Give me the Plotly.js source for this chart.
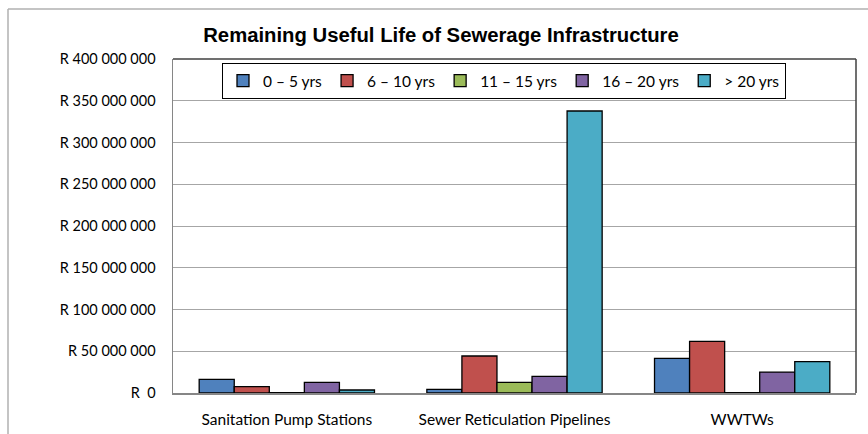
<!DOCTYPE html>
<html>
<head>
<meta charset="utf-8">
<script src="https://cdn.plot.ly/plotly-3.0.1.min.js"></script>
<style>html,body{margin:0;padding:0;background:#fff;}#chart{width:868px;height:434px;}</style>
</head>
<body>
<div id="chart"></div>
<script>
const categories = ["Sanitation Pump Stations", "Sewer Reticulation Pipelines", "WWTWs"];
const seriesNames = ["0 – 5 yrs", "6 – 10 yrs", "11 – 15 yrs", "16 – 20 yrs", "> 20 yrs"];
const s0to5 = [16400000, 4400000, 41500000];
const s6to10 = [7600000, 44300000, 61900000];
const s11to15 = [300000, 12800000, 300000];
const s16to20 = [12800000, 20000000, 25100000];
const s20plus = [3600000, 337700000, 37500000];
const tickVals = [0, 50000000, 100000000, 150000000, 200000000, 250000000, 300000000, 350000000, 400000000];
const tickLabels = ["R  0", "R 50 000 000", "R 100 000 000", "R 150 000 000", "R 200 000 000", "R 250 000 000", "R 300 000 000", "R 350 000 000", "R 400 000 000"];

const colors = ["#4F81BD", "#C0504D", "#9BBB59", "#8064A2", "#4BACC6"];
const values = [s0to5, s6to10, s11to15, s16to20, s20plus];

const traces = values.map((v, i) => ({
  type: "bar",
  name: seriesNames[i],
  x: categories,
  y: v,
  marker: {color: colors[i], line: {color: "#000000", width: 1.3}},
  hoverinfo: "x+y+name"
}));

const L = 173, R = 856, T = 59, B = 393;
const pw = R - L, ph = B - T;
const px = v => (v - L) / pw;
const py = v => (B - v) / ph;
const FONT = "Lato, 'Open Sans', sans-serif";

const layout = {
  width: 868, height: 434,
  margin: {l: L, r: 868 - R, t: T, b: 434 - B, pad: 0},
  paper_bgcolor: "#ffffff",
  plot_bgcolor: "#ffffff",
  font: {family: FONT, size: 14, color: "#000000"},
  title: {
    text: "<b>Remaining Useful Life of Sewerage Infrastructure</b>",
    font: {family: "'Liberation Sans', Arial, sans-serif", size: 20.3, color: "#000000"},
    x: 441 / 868, xanchor: "center", xref: "container",
    y: 1 - 35 / 434, yanchor: "middle", yref: "container"
  },
  barmode: "group",
  bargap: 0.23,
  bargroupgap: 0,
  showlegend: true,
  legend: {
    orientation: "h",
    x: px(504), xanchor: "center",
    y: py(63), yanchor: "top",
    bgcolor: "#ffffff",
    bordercolor: "#000000",
    borderwidth: 1,
    font: {family: FONT, size: 15.5, color: "#000000"},
    traceorder: "normal",
    itemwidth: 30,
    tracegroupgap: 0
  },
  xaxis: {
    type: "category",
    showgrid: false,
    showline: true,
    linecolor: "#868686",
    linewidth: 1.5,
    ticks: "",
    ticklabelstandoff: 12,
    tickfont: {family: FONT, size: 15.5, color: "#000000"},
    mirror: false,
    fixedrange: true
  },
  yaxis: {
    range: [0, 400000000],
    tickmode: "array",
    tickvals: tickVals,
    ticktext: tickLabels,
    showgrid: true,
    gridcolor: "#A6A6A6",
    gridwidth: 1,
    zeroline: false,
    showline: true,
    linecolor: "#868686",
    linewidth: 1.5,
    ticks: "",
    ticklabelstandoff: 13,
    tickfont: {family: FONT, size: 14.5, color: "#000000"},
    fixedrange: true
  },
  shapes: [
    {type: "line", xref: "paper", yref: "paper", x0: 0, x1: 1, y0: 1, y1: 1, line: {color: "#404040", width: 1.5}},
    {type: "line", xref: "paper", yref: "paper", x0: 1, x1: 1, y0: 0, y1: 1, line: {color: "#404040", width: 1.5}},
    {type: "line", xref: "paper", yref: "paper", x0: px(8), x1: px(868), y0: py(9), y1: py(9), line: {color: "#B0B0B0", width: 1.5}},
    {type: "line", xref: "paper", yref: "paper", x0: px(8), x1: px(8), y0: py(9), y1: py(434), line: {color: "#B0B0B0", width: 1.5}}
  ]
};

Plotly.newPlot("chart", traces, layout, {displayModeBar: false, staticPlot: true});
</script>
</body>
</html>
